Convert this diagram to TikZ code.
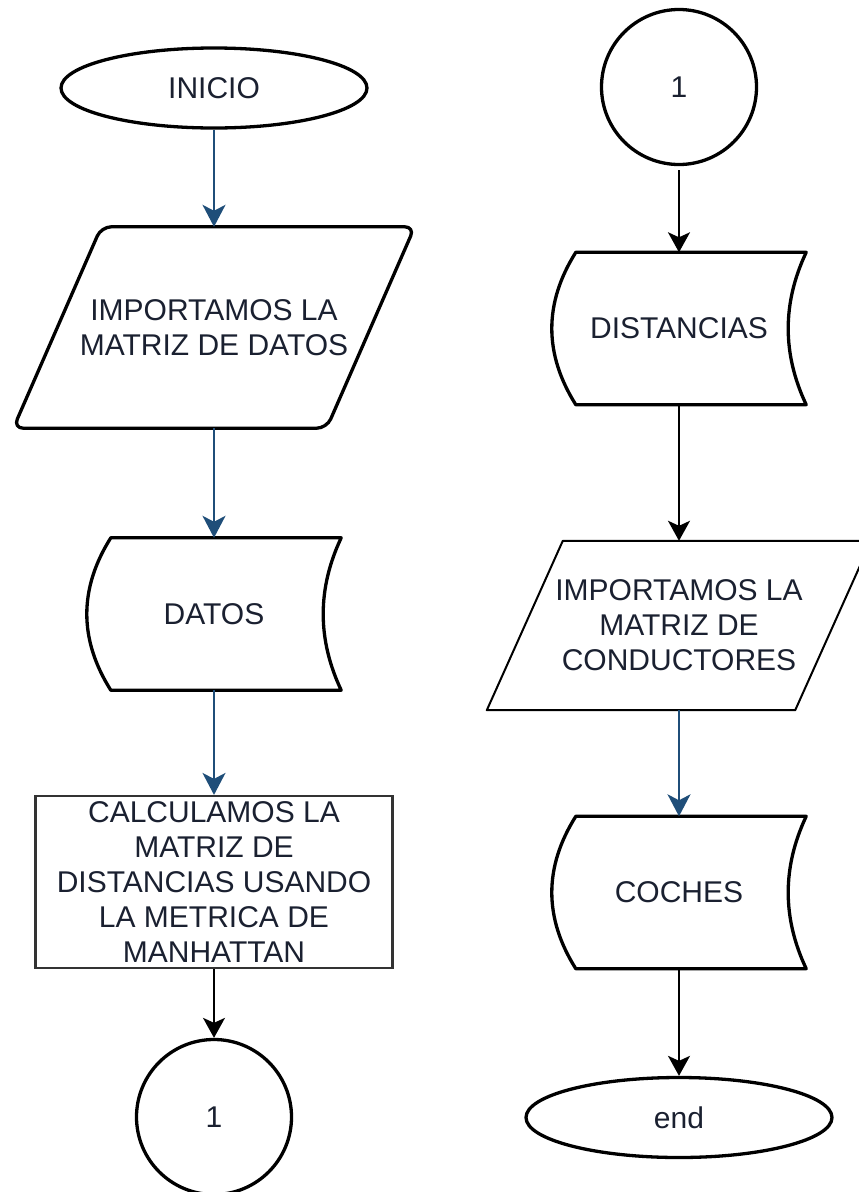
\documentclass[tikz,border=0pt]{standalone}
\usepackage{fontspec}
\setmainfont{Liberation Sans}
\usetikzlibrary{shapes.geometric,arrows.meta,calc}
\definecolor{flecha}{HTML}{1F4E79}
\definecolor{texto}{HTML}{1A2030}

\begin{document}
\begin{tikzpicture}[x=1pt,y=-1pt,
  every node/.style={font=\fontsize{30}{35}\selectfont, text=texto, align=center, inner sep=0pt},
  terminal/.style={ellipse, draw, line width=3.3pt, minimum width=306pt, minimum height=80pt},
  almacen/.style={minimum width=254pt, minimum height=152pt},
  proceso/.style={rectangle, draw=black!80, line width=2.2pt, minimum width=357pt, minimum height=172pt},
  conector/.style={circle, draw, line width=3.3pt, minimum size=155pt},
  linea/.style={line width=3.3pt, line join=round},
  azul/.style={draw=flecha, line width=2pt, -{Stealth[length=22pt,width=23pt,inset=6pt]}},
  negra/.style={draw=black, line width=2pt, -{Stealth[length=20pt,width=22pt,inset=5pt]}}
]
  \useasboundingbox (0,0) rectangle (859,1192);

  \node[terminal] (inicio) at (214,88) {INICIO};
  \node[minimum width=401pt, minimum height=201pt] (leer) at (214,327.5)
    {IMPORTAMOS LA\\MATRIZ DE DATOS};
  \node[almacen] (datos) at (214,614) {DATOS};
  \node[proceso] (calcular) at (214,882)
    {CALCULAMOS LA\\MATRIZ DE\\DISTANCIAS USANDO\\LA METRICA DE\\MANHATTAN};
  \node[conector] (salto) at (214,1117) {1};

  \node[conector] (llegada) at (679,87) {1};
  \node[almacen] (distancias) at (679,328.5) {DISTANCIAS};
  \node[minimum width=384pt, minimum height=169pt] (leerb) at (679,625.5)
    {IMPORTAMOS LA\\MATRIZ DE\\CONDUCTORES};
  \node[almacen] (coches) at (679,892.5) {COCHES};
  \node[terminal] (fin) at (679,1117.5) {end};

  \draw[linea, rounded corners=10pt] (leer.south west) -- ([xshift=-88pt]leer.south east)
    -- (leer.north east) -- ([xshift=88pt]leer.north west) -- cycle;
  \draw[line width=2pt, line join=round] (leerb.south west) -- ([xshift=-76pt]leerb.south east)
    -- (leerb.north east) -- ([xshift=76pt]leerb.north west) -- cycle;

  \foreach \n in {datos,distancias,coches}
    \draw[linea] ([xshift=24pt]\n.north west) -- (\n.north east)
      .. controls ($(\n.north east)!1/3!(\n.south east)+(-24,0)$)
      and ($(\n.north east)!2/3!(\n.south east)+(-24,0)$) .. (\n.south east)
      -- ([xshift=24pt]\n.south west)
      .. controls ($(\n.south west)!1/3!(\n.north west)+(-8,0)$)
      and ($(\n.south west)!2/3!(\n.north west)+(-8,0)$) .. ([xshift=24pt]\n.north west)
      -- cycle;

  \draw[azul] (inicio) -- (leer);
  \draw[azul] (leer) -- (datos);
  \draw[azul] (datos) -- (calcular);
  \draw[negra] (calcular) -- (salto);
  \draw[negra, shorten <=4pt] (llegada) -- (distancias);
  \draw[negra] (distancias) -- (leerb);
  \draw[azul] (leerb) -- (coches);
  \draw[negra] (coches) -- (fin);
\end{tikzpicture}
\end{document}
